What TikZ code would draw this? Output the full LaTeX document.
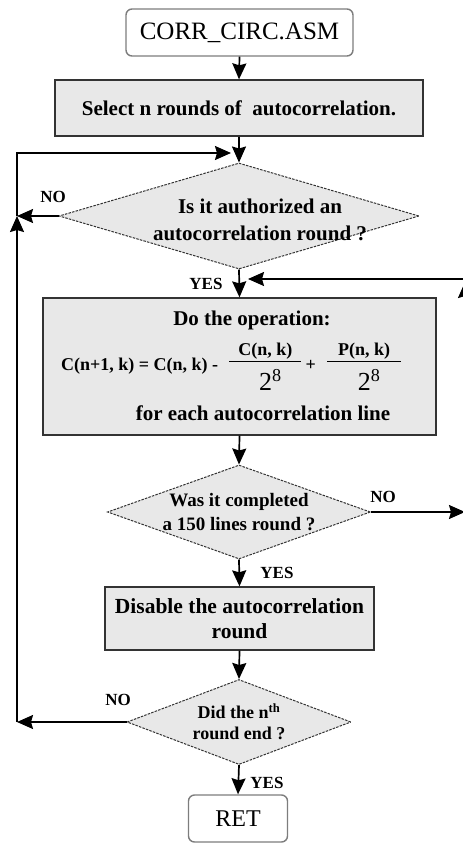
\documentclass[tikz,border=0pt]{standalone}
\usepackage{fontspec}
\usepackage{amsmath}
\setmainfont{Liberation Serif}
\usetikzlibrary{arrows.meta,shapes.geometric}
\definecolor{boxgray}{RGB}{232,232,232}
\definecolor{rimgray}{RGB}{125,125,125}
\newcommand{\dnm}{\mdseries\fontsize{26}{26}\selectfont}
\newcommand{\ratio}[3]{\raisebox{4.5pt}{$\genfrac{}{}{1.2pt}{1}{\mbox{\hspace{#3}#1\hspace{#3}}}{\mbox{\rule{0pt}{28pt}\hspace*{10pt}#2}}$}}
\tikzset{
  termbox/.style={draw=rimgray, line width=1.4pt, rounded corners=6pt, fill=white, inner sep=0pt, font=\fontsize{25}{28}\selectfont},
  procbox/.style={draw=black!80, line width=1.3pt, fill=boxgray, inner sep=0pt, align=center, font=\bfseries\fontsize{21}{26}\selectfont},
  decision/.style={diamond, shape aspect=2.8, draw=black!80, line width=1pt, dash pattern=on 2.5pt off 1.2pt, fill=boxgray, inner xsep=-30pt, inner ysep=-10pt, align=center},
  optext/.style={inner sep=0pt, align=center, font=\bfseries\fontsize{21}{26}\selectfont},
  flow/.style={-{Stealth[length=16pt,width=14pt,inset=2pt]}, line width=1.7pt},
  tag/.style={inner sep=0pt, font=\bfseries\fontsize{17}{19}\selectfont},
}
\begin{document}
\begin{tikzpicture}[x=1pt, y=-1pt]
  \useasboundingbox (0,0) rectangle (463,844);

  % blocks
  \node[termbox, minimum width=227pt, minimum height=47pt] (start) at (239.5,32.5) {CORR\_CIRC.ASM};
  \node[procbox, minimum width=368pt, minimum height=56pt] (sel) at (239,108) {Select n rounds of \ autocorrelation.};
  \node[decision, minimum width=360pt, minimum height=106pt] (auth) at (239,216) {};
  \node[optext, font=\bfseries\fontsize{21}{27}\selectfont] (authtxt) at (260,220) {Is it authorized an\\autocorrelation round ?};
  \node[procbox, minimum width=393pt, minimum height=137pt] (oper) at (239.5,366.5) {};
  \node[optext] (opA) at (252,320) {Do the operation:};
  \node[optext, anchor=base west, font=\bfseries\fontsize{18}{20}\selectfont] (opB) at (61,370)
    {C(n+1, k) = C(n, k) -\hspace{10pt}\ratio{C(n, k)}{\dnm 2\textsuperscript{8}}{9pt}\hspace{3pt}+\hspace{10pt}\ratio{P(n, k)}{\dnm 2\textsuperscript{8}}{11pt}};
  \node[optext] (opC) at (263,413) {for each autocorrelation line};
  \node[decision, minimum width=263pt, minimum height=94pt, font=\bfseries\fontsize{19}{24}\selectfont] (cmpl) at (239,512) {Was it completed\\a 150 lines round ?};
  \node[procbox, minimum width=269pt, minimum height=63pt, font=\bfseries\fontsize{21.5}{25}\selectfont] (dis) at (239.5,618.5) {Disable the autocorrelation\\round};
  \node[decision, minimum width=224pt, minimum height=85pt, font=\bfseries\fontsize{18}{21}\selectfont] (nth) at (239,722) {Did the n\textsuperscript{th}\\round end ?};
  \node[termbox, minimum width=99pt, minimum height=47pt, font=\fontsize{24}{28}\selectfont] (ret) at (238,818.5) {RET};

  % answers
  \node[tag] (noA) at (53,197) {NO};
  \node[tag] (yesA) at (206,284) {YES};
  \node[tag] (noB) at (383,497) {NO};
  \node[tag] (yesB) at (277,573) {YES};
  \node[tag] (noC) at (118,700) {NO};
  \node[tag] (yesC) at (267,783) {YES};

  % loop corners
  \coordinate (lftT) at (17,153);
  \coordinate (mrgT) at (231,153);
  \coordinate (rgtT) at (465,279);
  \coordinate (rgtU) at (465,282);
  \coordinate (mrgR) at (248,279);

  % main flow
  \draw[flow] (start.south) -- (sel.north);
  \draw[flow] (sel.south) -- (auth.north);
  \draw[flow] (auth.south) -- (oper.north);
  \draw[flow] (oper.south) -- (cmpl.north);
  \draw[flow] (cmpl.south) -- (dis.north);
  \draw[flow] (dis.south) -- (nth.north);
  \draw[flow] (nth.south) -- (ret.north);

  % back loops
  \draw[flow] (auth.west) -- (auth.west -| lftT);
  \draw[flow] (nth.west) -- (nth.west -| lftT);
  \draw[flow] (nth.west -| lftT) -- (auth.west -| lftT);
  \draw[flow] (auth.west -| lftT) -- (lftT) -- (mrgT);
  \draw[flow] (cmpl.east) -- (cmpl.east -| rgtT);
  \draw[flow] (cmpl.east -| rgtT) -- (rgtU);
  \draw[flow] (rgtT) -- (mrgR);
\end{tikzpicture}
\end{document}
